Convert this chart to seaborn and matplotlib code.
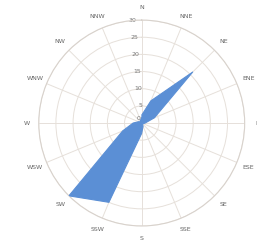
import numpy as np
import pandas as pd
import seaborn as sns
import matplotlib
matplotlib.use("Agg")
import matplotlib.pyplot as plt

sns.set_theme(style="white")
plt.rcParams['font.family'] = ['DejaVu Sans']

directions = ['N', 'NNE', 'NE', 'ENE', 'E', 'ESE', 'SE', 'SSE',
              'S', 'SSW', 'SW', 'WSW', 'W', 'WNW', 'NW', 'NNW']
values = [2.3, 7, 21, 4, 1, 0.5, 0.3, 1, 3, 25, 30, 6, 2.5, 1, 0.5, 1]
rticks = [0, 5, 10, 15, 20, 25, 30]

df = pd.DataFrame({'direction': directions, 'value': values})
df['theta'] = np.arange(len(df)) * 2 * np.pi / len(df)
closed = pd.concat([df, df.iloc[:1]], ignore_index=True)

fig = plt.figure(figsize=(2.57, 2.42), dpi=100)
ax = fig.add_axes([0.1506, 0.0661, 0.8016, 0.851], projection='polar')
ax.set_theta_zero_location('N')
ax.set_theta_direction(-1)

ax.fill(closed['theta'], closed['value'], color='#5B8FD5', zorder=3, lw=0)
sns.lineplot(data=closed, x='theta', y='value', sort=False, ax=ax,
             color='#5B8FD5', lw=0.8, zorder=3)

ax.set_ylim(0, 30)
ax.set_yticks(rticks)
ax.set_yticklabels([])
ax.set_xticks(df['theta'])
ax.set_xticklabels([])
ax.grid(True, color='#e6e0da', lw=0.7)
ax.spines['polar'].set_color('#d8d2cc')
ax.spines['polar'].set_linewidth(0.8)
ax.set_xlabel('')
ax.set_ylabel('')

# direction labels, placed close to the outer ring like the original
for t, d in zip(df['theta'], df['direction']):
    ax.text(t, 33.6, d, fontsize=4.5, color='#666666', ha='center',
            va='center', clip_on=False)

for r in rticks:
    ax.text(-0.09 if r > 0 else -0.6, r if r > 0 else 1.5, str(r), fontsize=4.5,
            color='#777777', ha='center', va='center', zorder=2)

fig.savefig('out.png', dpi=100)
